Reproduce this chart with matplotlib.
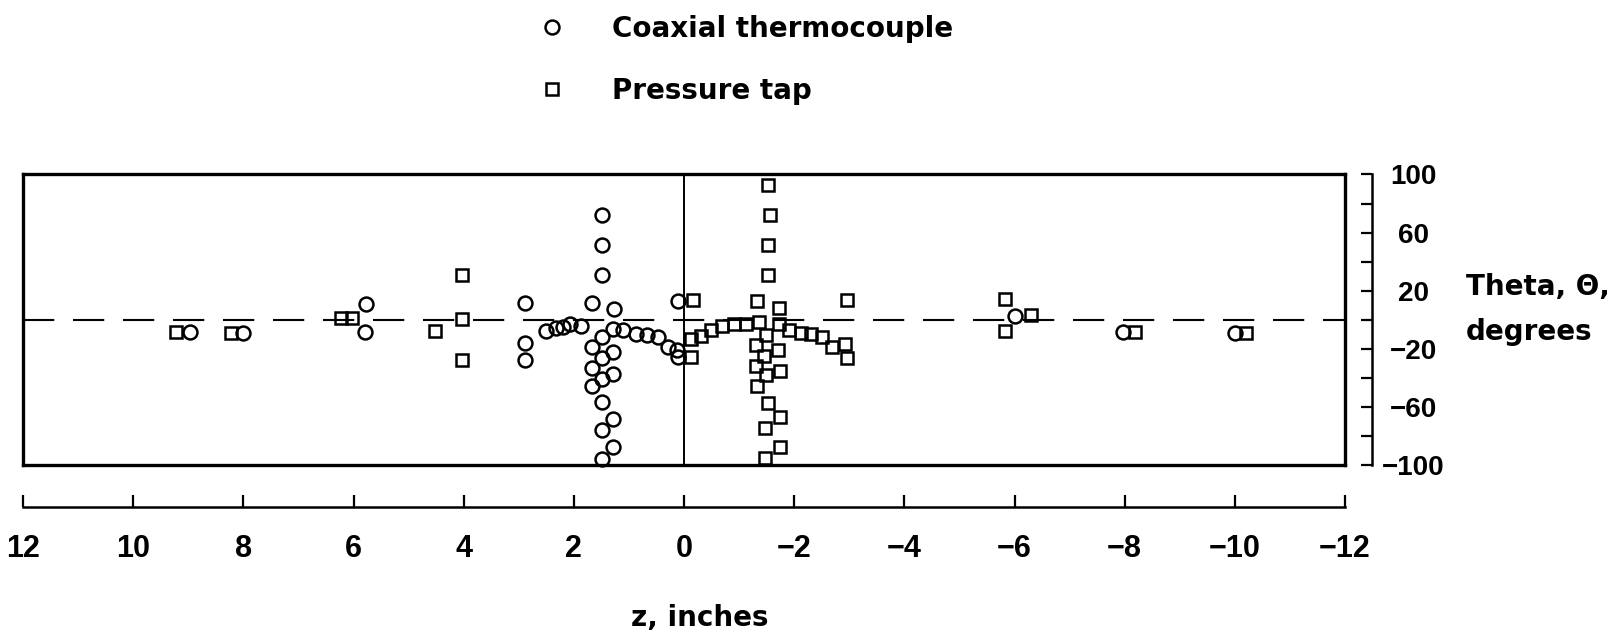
import matplotlib.pyplot as plt
from matplotlib.lines import Line2D

# z (inches) and theta (degrees)
circle_z = [8.97, 8.0, 5.77, 5.80,
            2.89, 2.89, 2.89,
            2.51, 2.32, 2.19, 2.07, 1.87,
            1.49, 1.49, 1.49, 1.68, 1.28, 1.29, 1.49, 1.68, 1.29, 1.49, 1.68,
            1.29, 1.49, 1.68, 1.49, 1.29, 1.49, 1.29, 1.49,
            1.11, 0.88, 0.68, 0.48, 0.30, 0.13, 0.11, 0.11,
            -6.0, -7.97, -10.0]
circle_theta = [-8.5, -8.7, 11.0, -8.6,
                11.6, -15.9, -27.2,
                -7.7, -5.6, -4.5, -2.9, -4.1,
                71.8, 51.5, 31.2, 11.8, 7.5, -6.0, -11.4, -18.6, -21.8, -26.3, -32.9,
                -37.3, -40.3, -45.3, -56.6, -67.9, -75.8, -87.1, -95.4,
                -7.2, -9.5, -10.0, -11.8, -18.7, -20.5, -25.5, 12.7,
                2.9, -8.3, -9.1]

square_z = [9.23, 8.23, 6.22, 6.03, 4.52, 4.04, 4.04, 4.04,
            -0.16, -0.13, -0.13, -0.31, -0.49, -0.69, -0.91, -1.12, -1.36,
            -1.53, -1.56, -1.52, -1.52, -1.32, -1.73, -1.73, -1.49, -1.30,
            -1.70, -1.46, -1.30, -1.74, -1.49, -1.33, -1.52, -1.74, -1.47,
            -1.74, -1.47,
            -1.91, -2.12, -2.30, -2.51, -2.69, -2.93, -2.95, -2.95,
            -5.83, -6.29, -5.83, -8.18, -10.21]
square_theta = [-8.5, -8.7, 1.3, 1.3, -7.6, 31.2, 0.8, -27.4,
                13.6, -13.4, -25.7, -11.2, -6.8, -3.9, -2.9, -3.0, -1.4,
                92.6, 72.2, 51.4, 31.1, 13.2, 8.5, -2.8, -10.5, -17.2,
                -20.8, -25.1, -31.8, -35.3, -37.5, -45.6, -57.3, -67.0, -74.2,
                -87.1, -95.0,
                -6.7, -9.0, -9.8, -11.4, -18.9, -16.8, -26.4, 13.6,
                14.7, 3.2, -7.4, -8.3, -9.1]

z_ticks = [12, 10, 8, 6, 4, 2, 0, -2, -4, -6, -8, -10, -12]
theta_major = [100, 60, 20, -20, -60, -100]
theta_minor = [80, 40, 0, -40, -80]

word_font = dict(family='DejaVu Sans', weight='bold', size=20)
ytick_font = dict(family='Liberation Sans', weight='bold', size=20)
xtick_font = dict(family=['Liberation Sans Narrow', 'Liberation Sans'], weight='bold', size=22)

fig = plt.figure(figsize=(16.13, 6.40), dpi=100)
ax = fig.add_axes([0.0143, 0.2727, 0.8196, 0.4547])

ax.axvline(0, color='k', lw=1.4, zorder=1)
ax.axhline(0, color='k', lw=1.5, ls=(0, (15, 9)), zorder=1)

ax.plot(circle_z, circle_theta, 'o', ms=10, mfc='none', mec='k', mew=1.8, clip_on=False)
ax.plot(square_z, square_theta, 's', ms=9, mfc='none', mec='k', mew=1.8, clip_on=False)

ax.set_xlim(12, -12)
ax.set_ylim(-100, 100)
ax.set_xticks([])
ax.set_yticks([])
for s in ax.spines.values():
    s.set_linewidth(2.4)

# bottom ruler
secx = ax.secondary_xaxis(-0.142)
secx.set_xticks(z_ticks)
secx.set_xticklabels([str(t).replace('-', '\u2212') for t in z_ticks])
secx.tick_params(direction='in', length=9, width=1.6, pad=19.5)
secx.spines['bottom'].set_linewidth(1.8)
for lbl in secx.get_xticklabels():
    lbl.set(**xtick_font)

# right ruler
secy = ax.secondary_yaxis(1.0204)
secy.set_yticks(theta_major)
secy.set_yticklabels([str(t).replace('-', '\u2212') for t in theta_major])
secy.set_yticks(theta_minor, minor=True)
secy.tick_params(which='both', direction='in', length=8, width=1.6, pad=29.5)
secy.spines['right'].set_linewidth(1.8)
for lbl in secy.get_yticklabels():
    lbl.set(ha='center', **ytick_font)

fig.text(1466 / 1613, 1 - 309.5 / 640, 'Theta, \u0398,\ndegrees', ha='left', va='center',
         linespacing=1.8, **word_font)
fig.text(700 / 1613, 1 - 618 / 640, 'z, inches', ha='center', va='center', **word_font)

handles = [Line2D([], [], ls='none', marker='o', ms=10, mfc='none', mec='k', mew=1.8),
           Line2D([], [], ls='none', marker='s', ms=9, mfc='none', mec='k', mew=1.8)]
fig.legend(handles, ['Coaxial thermocouple', 'Pressure tap'], loc='upper left',
           bbox_to_anchor=(538 / 1613, 0.977), frameon=False, handlelength=1.0,
           handletextpad=1.66, labelspacing=1.23, borderpad=0, borderaxespad=0,
           prop=word_font)

fig.savefig('out.png', dpi=100)
